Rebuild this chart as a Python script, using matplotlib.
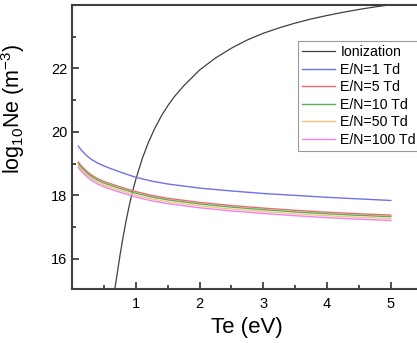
import matplotlib
matplotlib.use("Agg")
import matplotlib.pyplot as plt

plt.rcParams['font.family'] = ['Liberation Sans', 'DejaVu Sans']

# Ionization curve
te_ion = [0.66, 0.70, 0.75, 0.80, 0.85, 0.90, 0.95, 1.0, 1.1, 1.2, 1.3, 1.4, 1.5, 1.6,
          1.75, 2.0, 2.25, 2.5, 2.75, 3.0, 3.25, 3.5, 3.75, 4.0, 4.25, 4.5, 4.75, 5.0, 5.25, 5.5]
ne_ion = [14.9, 15.42, 16.08, 16.68, 17.22, 17.7, 18.13, 18.5, 19.15, 19.68, 20.12, 20.5, 20.82, 21.1,
          21.45, 21.95, 22.33, 22.64, 22.9, 23.11, 23.28, 23.43, 23.56, 23.67, 23.77, 23.86, 23.94, 24.01, 24.07, 24.12]

# E/N curves
te = [0.1, 0.15, 0.2, 0.25, 0.3, 0.4, 0.5, 0.6, 0.75, 1.0, 1.25, 1.5, 2.0, 2.5, 3.0, 3.5, 4.0, 4.5, 5.0]
ne_1td = [19.55, 19.42, 19.31, 19.22, 19.14, 19.02, 18.93, 18.85, 18.74, 18.57, 18.45, 18.36,
          18.23, 18.14, 18.06, 18.0, 17.94, 17.89, 17.84]
ne_5td = [19.05, 18.92, 18.82, 18.73, 18.65, 18.53, 18.44, 18.37, 18.27, 18.12, 18.0, 17.91,
          17.78, 17.68, 17.6, 17.53, 17.47, 17.42, 17.38]
ne_10td = [19.0, 18.87, 18.77, 18.68, 18.6, 18.48, 18.39, 18.32, 18.22, 18.07, 17.95, 17.86,
           17.73, 17.63, 17.55, 17.48, 17.42, 17.37, 17.33]
ne_50td = [18.94, 18.81, 18.71, 18.62, 18.54, 18.42, 18.33, 18.26, 18.16, 18.01, 17.89, 17.8,
           17.67, 17.57, 17.49, 17.42, 17.36, 17.31, 17.27]
ne_100td = [18.88, 18.75, 18.65, 18.56, 18.48, 18.36, 18.27, 18.2, 18.1, 17.95, 17.83, 17.74,
            17.61, 17.51, 17.43, 17.36, 17.3, 17.25, 17.21]

labels = ["Ionization", "E/N=1 Td", "E/N=5 Td", "E/N=10 Td", "E/N=50 Td", "E/N=100 Td"]
colors = ["#404040", "#7070e8", "#ee6a6a", "#5cae5c", "#f2c483", "#ee82ee"]

fig = plt.figure(figsize=(4.17, 3.43), dpi=100)
ax = fig.add_axes([0.1727, 0.1574, 0.841, 0.828])

ax.plot(te_ion, ne_ion, color=colors[0], lw=0.9, label=labels[0])
for ys, lab, c in zip([ne_1td, ne_5td, ne_10td, ne_50td, ne_100td], labels[1:], colors[1:]):
    ax.plot(te, ys, color=c, lw=1.0, label=lab)

ax.set_xlim(0, 5.5)
ax.set_ylim(15.05, 24.0)
ax.set_xticks([1, 2, 3, 4, 5])
ax.set_yticks([16, 18, 20, 22])
ax.xaxis.set_minor_locator(plt.MultipleLocator(0.5))
ax.yaxis.set_minor_locator(plt.MultipleLocator(1))
ax.tick_params(which='both', direction='in', color='#303030', labelsize=10.5, width=1.2)
ax.tick_params(which='major', length=5)
ax.tick_params(which='minor', length=3)
ax.tick_params(axis='x', pad=6)
for s in ax.spines.values():
    s.set_color('#404040')
    s.set_linewidth(1.5)

ax.set_xlabel("Te (eV)", fontsize=16, labelpad=4)
ax.set_ylabel(r"log$_{\mathregular{10}}$Ne (m$^{\mathregular{-3}}$)", fontsize=15.5)
ax.yaxis.set_label_coords(-0.128, 0.635)

leg = ax.legend(loc='upper left', bbox_to_anchor=(0.7146, 0.8805), bbox_transform=fig.transFigure,
                fontsize=10.2, frameon=True, fancybox=False, borderaxespad=0, borderpad=0.3,
                handlelength=2.3, handletextpad=0.4, labelspacing=0.25)
leg.get_frame().set_edgecolor('#808080')
leg.get_frame().set_linewidth(0.8)

fig.savefig("out.png", dpi=100)
